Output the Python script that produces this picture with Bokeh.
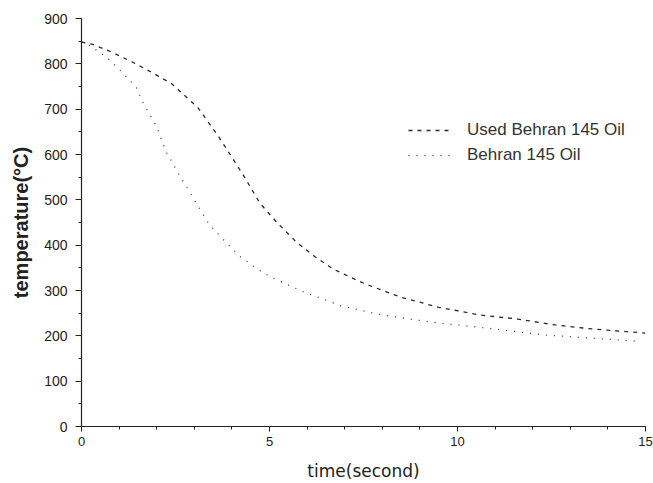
from bokeh.plotting import figure
from bokeh.models import Range1d, Legend, LegendItem, FixedTicker
from bokeh.embed import file_html
from bokeh.resources import INLINE

# Data
time_used = [0, 0.3, 0.8, 1.35, 1.85, 2.4, 3.1, 3.65, 4.3, 4.75, 5.2, 5.7, 6.2, 6.7,
             7.5, 8.5, 9.5, 10.6, 11.6, 12.6, 13.6, 15]
temp_used = [848, 843, 826, 804, 782, 756, 703, 639, 555, 492, 450, 408, 375, 347,
             316, 285, 263, 246, 237, 224, 215, 206]

time_new = [0, 0.2, 0.65, 1.05, 1.45, 1.65, 2.0, 2.25, 2.6, 3.0, 3.4, 3.8, 4.2, 4.65,
            5.05, 5.5, 5.9, 6.5, 6.9, 8.0, 9.4, 10.8, 12.3, 14.8]
temp_new = [848, 841, 816, 784, 749, 712, 661, 606, 555, 500, 445, 410, 376, 349,
            329, 312, 297, 279, 266, 246, 229, 217, 202, 188]

series_labels = ["Used Behran 145 Oil", "Behran 145 Oil"]
x_ticks = [0, 5, 10, 15]
y_ticks = [0, 100, 200, 300, 400, 500, 600, 700, 800, 900]

FONT = "Liberation Sans"
INK = "#222222"

p = figure(width=653, height=483, output_backend="svg", toolbar_location=None,
           x_range=Range1d(0, 15), y_range=Range1d(0, 900),
           min_border_left=81, min_border_right=8, min_border_top=18, min_border_bottom=56)
p.outline_line_color = None
p.xgrid.visible = False
p.ygrid.visible = False

r1 = p.line(time_used, temp_used, line_color="#2a2a2a", line_width=1.3, line_dash="4 5")
r2 = p.line(time_new, temp_new, line_color="#3a3a3a", line_width=1.3, line_dash="1 7")

for ax in (p.xaxis[0], p.yaxis[0]):
    ax.axis_line_color = INK
    ax.axis_line_width = 1.2
    ax.major_tick_line_color = INK
    ax.minor_tick_line_color = INK
    ax.major_tick_in = 0
    ax.minor_tick_in = 0
    ax.major_label_text_font = FONT
    ax.major_label_text_color = INK
    ax.axis_label_text_font = FONT
    ax.axis_label_text_color = INK

p.xaxis.major_label_text_font_size = "13px"
p.yaxis.major_label_text_font_size = "14px"
p.xaxis.ticker = FixedTicker(ticks=x_ticks, minor_ticks=list(range(0, 16)))
p.yaxis.ticker = FixedTicker(ticks=y_ticks, minor_ticks=list(range(0, 901, 50)))
p.xaxis.major_tick_out = 5
p.xaxis.minor_tick_out = 3
p.yaxis.major_tick_out = 6
p.yaxis.minor_tick_out = 3
p.xaxis.major_label_standoff = 5
p.yaxis.major_label_standoff = 8

p.xaxis.axis_label = "time(second)"
p.xaxis.axis_label_text_font = "DejaVu Sans"
p.xaxis.axis_label_text_font_size = "17px"
p.xaxis.axis_label_text_font_style = "normal"
p.xaxis.axis_label_standoff = 12
p.yaxis.axis_label = "temperature(°C)"
p.yaxis.axis_label_text_font_size = "20px"
p.yaxis.axis_label_text_font_style = "bold"
p.yaxis.axis_label_standoff = 9

legend = Legend(items=[LegendItem(label=series_labels[0], renderers=[r1]),
                       LegendItem(label=series_labels[1], renderers=[r2])],
                location=(327, 261), border_line_color=None, background_fill_alpha=0,
                label_text_font=FONT, label_text_font_size="17px", label_text_color="#333333",
                glyph_width=44, glyph_height=20, label_standoff=15,
                padding=0, margin=0, spacing=5)
p.add_layout(legend)

open("out.html", "w").write(file_html(p, INLINE))
